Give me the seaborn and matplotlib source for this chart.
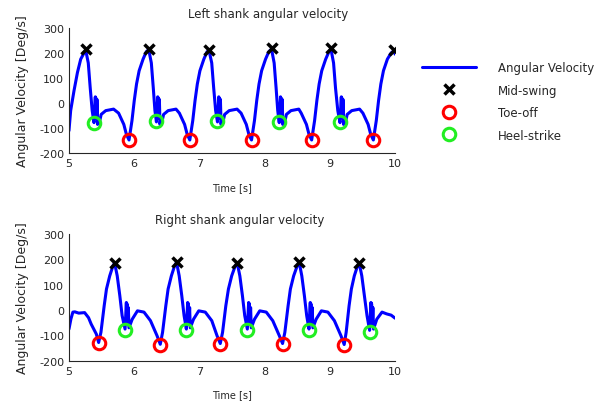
import pandas as pd
import seaborn as sns
import matplotlib.pyplot as plt
from matplotlib.lines import Line2D

# === Left shank signal ===
left_t = [5.00, 5.026, 5.077, 5.13, 5.18, 5.256,
          5.296, 5.326, 5.356, 5.384, 5.404, 5.409, 5.414, 5.424, 5.429, 5.439, 5.444, 5.464, 5.494, 5.564, 5.684,
          5.761, 5.841, 5.881, 5.921,
          5.966, 6.001, 6.036, 6.076, 6.136, 6.186, 6.223,
          6.263, 6.293, 6.318, 6.341, 6.361, 6.366, 6.371, 6.381, 6.386, 6.396, 6.401, 6.421, 6.451, 6.521, 6.641,
          6.693, 6.773, 6.813, 6.853,
          6.898, 6.933, 6.968, 7.008, 7.068, 7.118, 7.149,
          7.189, 7.219, 7.249, 7.277, 7.297, 7.302, 7.307, 7.317, 7.322, 7.332, 7.337, 7.357, 7.387, 7.457, 7.577,
          7.639, 7.719, 7.759, 7.799,
          7.844, 7.879, 7.914, 7.954, 8.014, 8.064, 8.106,
          8.146, 8.176, 8.201, 8.224, 8.244, 8.249, 8.254, 8.264, 8.269, 8.279, 8.284, 8.304, 8.334, 8.404, 8.524,
          8.561, 8.641, 8.681, 8.721,
          8.766, 8.801, 8.836, 8.876, 8.936, 8.986, 9.017,
          9.057, 9.087, 9.122, 9.156, 9.176, 9.181, 9.186, 9.196, 9.201, 9.211, 9.216, 9.236, 9.266, 9.336, 9.456,
          9.507, 9.587, 9.627, 9.667,
          9.712, 9.747, 9.782, 9.822, 9.882, 9.94, 9.99, 10.00]
left_v = [-110, -30, 49, 122, 175, 212,
          160, 60, -30, -78, 25, -50, 20, -60, 15, -85, -70, -80, -45, -30, -24,
          -40, -85, -125, -147,
          -70, 10, 76, 129, 175, 205, 213,
          160, 60, -30, -75, 25, -50, 20, -60, 15, -85, -70, -80, -45, -30, -24,
          -40, -85, -125, -147,
          -70, 10, 76, 129, 175, 205, 208,
          160, 60, -30, -75, 25, -50, 20, -60, 15, -85, -70, -80, -45, -30, -24,
          -40, -85, -125, -147,
          -70, 10, 76, 129, 175, 205, 215,
          160, 60, -30, -78, 25, -50, 20, -60, 15, -85, -70, -80, -45, -30, -24,
          -40, -85, -125, -147,
          -70, 10, 76, 129, 175, 205, 215,
          160, 60, -30, -78, 25, -50, 20, -60, 15, -85, -70, -80, -45, -30, -24,
          -40, -85, -125, -147,
          -70, 10, 76, 129, 175, 200, 210, 195]

left_ms_t = [5.256, 6.223, 7.149, 8.106, 9.017, 9.99]
left_ms_v = [215, 215, 210, 218, 218, 212]
left_to_t = [5.921, 6.853, 7.799, 8.721, 9.667]
left_to_v = [-148, -148, -148, -148, -148]
left_hs_t = [5.384, 6.341, 7.277, 8.224, 9.156]
left_hs_v = [-80, -73, -73, -77, -77]

# === Right shank signal ===
right_t = [5.00, 5.03, 5.06, 5.09, 5.15, 5.24, 5.30, 5.34, 5.42, 5.455,
           5.49, 5.54, 5.575, 5.625, 5.675, 5.70,
           5.74, 5.78, 5.815, 5.86, 5.88, 5.885, 5.89, 5.90, 5.91, 5.92, 5.97, 6.05, 6.15, 6.25, 6.35, 6.40,
           6.435, 6.485, 6.52, 6.57, 6.62, 6.65,
           6.69, 6.73, 6.765, 6.80, 6.82, 6.825, 6.83, 6.84, 6.85, 6.86, 6.91, 6.99, 7.09, 7.19, 7.27, 7.32,
           7.355, 7.405, 7.445, 7.495, 7.55, 7.58,
           7.62, 7.66, 7.695, 7.735, 7.755, 7.76, 7.765, 7.775, 7.785, 7.795, 7.845, 7.925, 8.025, 8.125, 8.225, 8.275,
           8.31, 8.36, 8.395, 8.445, 8.50, 8.53,
           8.57, 8.61, 8.645, 8.68, 8.70, 8.705, 8.71, 8.72, 8.73, 8.74, 8.79, 8.87, 8.97, 9.07, 9.17, 9.22,
           9.25, 9.295, 9.33, 9.375, 9.425, 9.45,
           9.49, 9.53, 9.57, 9.61, 9.63, 9.635, 9.64, 9.65, 9.66, 9.67, 9.72, 9.80, 9.87, 9.94, 10.00]
right_v = [-75, -35, -8, -7, -12, -10, -30, -55, -95, -128,
           -88, 17, 83, 135, 175, 186,
           135, 56, -22, -75, 30, -40, 25, -55, 10, -70, -36, -3, -8, -42, -101, -135,
           -88, 17, 83, 135, 175, 189,
           135, 56, -22, -75, 30, -40, 25, -55, 10, -70, -36, -3, -8, -42, -101, -132,
           -88, 17, 83, 135, 175, 186,
           135, 56, -22, -75, 30, -40, 25, -55, 10, -70, -36, -3, -8, -42, -101, -132,
           -88, 17, 83, 135, 175, 189,
           135, 56, -22, -75, 30, -40, 25, -55, 10, -70, -36, -3, -8, -42, -101, -136,
           -88, 17, 83, 135, 175, 186,
           135, 56, -22, -80, 30, -40, 25, -55, 10, -75, -36, -8, -15, -20, -32]

right_ms_t = [5.70, 6.65, 7.58, 8.53, 9.45]
right_ms_v = [185, 191, 185, 191, 185]
right_to_t = [5.455, 6.40, 7.32, 8.275, 9.22]
right_to_v = [-130, -137, -134, -134, -138]
right_hs_t = [5.86, 6.80, 7.735, 8.68, 9.61]
right_hs_v = [-78, -78, -80, -78, -85]

GREEN = "#22ee22"
GRAY = "#262626"

sns.set_style("white", {"xtick.direction": "in", "ytick.direction": "in"})
plt.rcParams["font.family"] = ["DejaVu Sans"]
plt.rcParams["axes.unicode_minus"] = False
plt.rcParams["text.color"] = GRAY
plt.rcParams["axes.labelcolor"] = GRAY
plt.rcParams["xtick.color"] = GRAY
plt.rcParams["ytick.color"] = GRAY

fig = plt.figure(figsize=(6.05, 4.06), dpi=100)
ax1 = fig.add_axes([0.114, 0.620, 0.539, 0.309])
ax2 = fig.add_axes([0.114, 0.109, 0.539, 0.312])


def draw(ax, t, v, ms_t, ms_v, to_t, to_v, hs_t, hs_v, title, title_x):
    df = pd.DataFrame({"t": t, "v": v})
    sns.lineplot(data=df, x="t", y="v", ax=ax, color="#0000ff", linewidth=2.2, sort=False)
    ax.plot(ms_t, ms_v, linestyle="none", marker="x", color="black", markersize=7, markeredgewidth=2.5)
    ax.plot(to_t, to_v, linestyle="none", marker="o", markerfacecolor="none",
            markeredgecolor="red", markersize=9, markeredgewidth=2.2)
    ax.plot(hs_t, hs_v, linestyle="none", marker="o", markerfacecolor="none",
            markeredgecolor=GREEN, markersize=9, markeredgewidth=2.2)
    ax.set_xlim(5, 10)
    ax.set_ylim(-200, 300)
    ax.set_xticks([5, 6, 7, 8, 9, 10])
    ax.set_yticks([-200, -100, 0, 100, 200, 300])
    ax.tick_params(labelsize=8, length=3, width=0.8)
    ax.set_title(title, fontsize=8.5, pad=8, x=title_x)
    ax.set_xlabel("Time [s]", fontsize=7, labelpad=10)
    ax.set_ylabel("Angular Velocity [Deg/s]", fontsize=9, labelpad=7)
    for s in ["top", "right"]:
        ax.spines[s].set_visible(False)
    for s in ["left", "bottom"]:
        ax.spines[s].set_color(GRAY)
        ax.spines[s].set_linewidth(0.8)


draw(ax1, left_t, left_v, left_ms_t, left_ms_v, left_to_t, left_to_v, left_hs_t, left_hs_v,
     "Left shank angular velocity", 0.61)
draw(ax2, right_t, right_v, right_ms_t, right_ms_v, right_to_t, right_to_v, right_hs_t, right_hs_v,
     "Right shank angular velocity", 0.525)

handles = [
    Line2D([], [], color="#0000ff", linewidth=2.2),
    Line2D([], [], linestyle="none", marker="x", color="black", markersize=7, markeredgewidth=2.5),
    Line2D([], [], linestyle="none", marker="o", markerfacecolor="none", markeredgecolor="red",
           markersize=9, markeredgewidth=2.2),
    Line2D([], [], linestyle="none", marker="o", markerfacecolor="none", markeredgecolor=GREEN,
           markersize=9, markeredgewidth=2.2),
]
labels = ["Angular Velocity", "Mid-swing", "Toe-off", "Heel-strike"]
fig.legend(handles, labels, loc="upper left", bbox_to_anchor=(0.68, 0.873), frameon=False,
           fontsize=8.5, handlelength=4.6, handletextpad=1.8, labelspacing=0.8)

plt.savefig("out.png", dpi=100)
plt.close()
